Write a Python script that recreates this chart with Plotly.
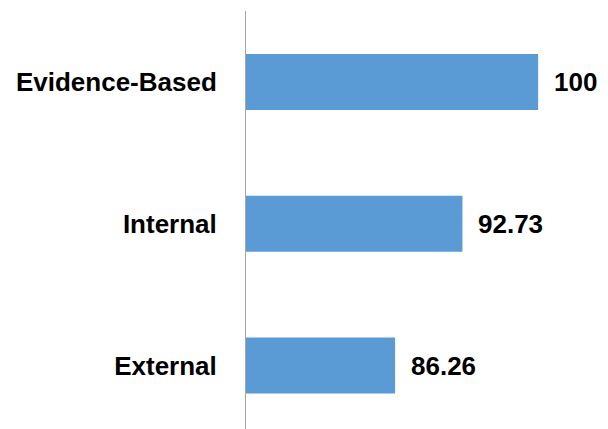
import plotly.graph_objects as go

categories = ["Evidence-Based", "Internal", "External"]
values = [100, 92.73, 86.26]
value_labels = ["100", "92.73", "86.26"]

fig = go.Figure()
fig.add_trace(go.Bar(
    x=values, y=categories, orientation="h",
    marker=dict(color="#5B9BD5", line=dict(width=0)),
    hoverinfo="skip",
))

for v, c, t in zip(values, categories, value_labels):
    fig.add_annotation(
        x=v, y=c, text=t, showarrow=False, xanchor="left", yanchor="middle",
        xshift=14, yshift=0,
        font=dict(family="Liberation Sans Narrow, Arial Narrow, Liberation Sans, Arial, sans-serif",
                  size=26, color="#000000", weight="bold"),
    )

fig.update_layout(
    width=600, height=421,
    margin=dict(l=238, r=0, t=3, b=0),
    paper_bgcolor="white", plot_bgcolor="white",
    showlegend=False,
    bargap=0.605,
    xaxis=dict(range=[71.94, 106.71], visible=False, showgrid=False, zeroline=False,
               automargin=False),
    yaxis=dict(
        type="category", range=[2.448, -0.501],
        showline=True, linecolor="#A6A6A6", linewidth=1,
        ticks="", showgrid=False, zeroline=False,
        ticklabelstandoff=23, automargin=False,
        tickfont=dict(family="Liberation Sans, Arial, sans-serif", size=26,
                      color="#000000", weight="bold"),
    ),
)

fig.write_html("out.html")
